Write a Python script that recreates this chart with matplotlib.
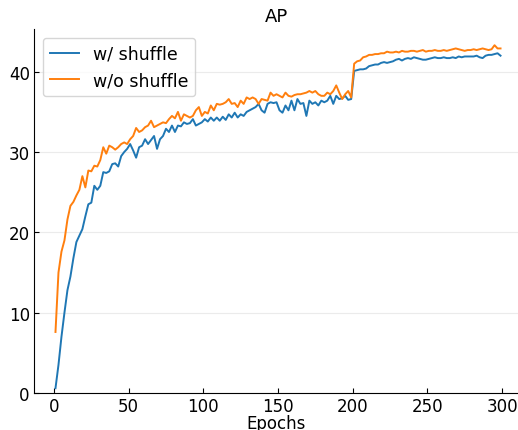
import numpy as np
import matplotlib
matplotlib.use("Agg")
import matplotlib.pyplot as plt

####DATA######
epochs = np.arange(1, 300, 2)

# AP with shuffle
ap_shuffle = [
    0.6, 3.5, 7.0, 10.0, 12.8, 14.5, 16.8, 18.8, 19.6, 20.4,
    22.0, 23.5, 23.7, 25.8, 25.3, 25.8, 27.5, 27.4, 27.6, 28.5,
    28.6, 28.2, 29.5, 30.0, 30.4, 31.0, 30.2, 29.3, 30.6, 30.8,
    31.6, 31.0, 31.5, 32.0, 30.4, 31.6, 32.0, 32.9, 32.5, 33.3,
    32.5, 33.3, 33.2, 33.7, 33.5, 33.6, 34.1, 33.3, 33.5, 33.7,
    34.1, 33.8, 34.3, 33.9, 34.3, 33.9, 34.4, 34.0, 34.7, 34.3,
    34.9, 34.3, 34.7, 34.5, 35.0, 35.2, 35.4, 35.6, 36.0, 35.2,
    34.9, 36.0, 36.2, 36.1, 36.2, 35.2, 34.9, 35.8, 35.2, 36.4,
    35.2, 36.6, 36.0, 36.1, 34.5, 36.4, 36.0, 36.2, 35.8, 36.4,
    36.2, 36.4, 37.0, 36.0, 37.0, 36.6, 36.7, 37.0, 36.5, 36.6,
    40.1, 40.2, 40.3, 40.3, 40.4, 40.7, 40.8, 40.9, 40.9, 41.1,
    41.2, 41.1, 41.2, 41.3, 41.5, 41.6, 41.4, 41.6, 41.7, 41.6,
    41.8, 41.7, 41.6, 41.5, 41.5, 41.6, 41.7, 41.8, 41.7, 41.7,
    41.8, 41.7, 41.7, 41.8, 41.7, 41.9, 41.8, 41.9, 41.9, 41.9,
    41.9, 42.0, 41.8, 41.7, 42.0, 42.1, 42.1, 42.2, 42.3, 42.0,
]

# AP without shuffle
ap_no_shuffle = [
    7.6, 15.0, 17.6, 19.0, 21.6, 23.3, 23.8, 24.6, 25.3, 27.0,
    25.6, 27.7, 27.6, 28.3, 28.2, 29.0, 30.6, 29.8, 30.8, 30.6,
    30.3, 30.6, 31.0, 31.2, 31.0, 31.6, 32.0, 33.0, 32.5, 32.7,
    33.1, 33.3, 33.9, 33.1, 33.3, 33.5, 33.7, 33.6, 34.1, 34.5,
    34.2, 35.0, 33.9, 34.7, 34.5, 34.3, 34.5, 35.2, 35.6, 34.5,
    35.0, 34.8, 35.8, 35.2, 36.0, 35.9, 36.0, 36.2, 36.6, 36.0,
    36.1, 35.6, 36.4, 36.0, 36.8, 36.6, 36.8, 36.6, 36.0, 36.6,
    36.5, 36.4, 37.4, 37.0, 37.2, 37.0, 36.8, 37.4, 37.0, 36.9,
    37.1, 37.2, 37.2, 37.3, 37.4, 37.6, 37.4, 37.6, 37.2, 37.0,
    37.0, 37.4, 37.2, 37.6, 38.3, 37.4, 36.6, 37.2, 37.6, 36.8,
    41.0, 41.3, 41.4, 41.8, 41.9, 42.1, 42.1, 42.2, 42.2, 42.3,
    42.3, 42.5, 42.4, 42.4, 42.5, 42.4, 42.6, 42.5, 42.5, 42.6,
    42.6, 42.5, 42.6, 42.7, 42.5, 42.6, 42.6, 42.7, 42.6, 42.6,
    42.7, 42.6, 42.7, 42.8, 42.9, 42.8, 42.7, 42.6, 42.7, 42.7,
    42.8, 42.7, 42.8, 42.9, 42.8, 42.7, 42.8, 43.3, 42.9, 42.9,
]

#Plot---------
fig = plt.figure(figsize=(5.18, 4.31), dpi=100)
ax = fig.add_axes([0.0656, 0.0858, 0.9344, 0.8442])

ax.plot(epochs, ap_shuffle, color='tab:blue', lw=1.4, label='w/ shuffle')
ax.plot(epochs, ap_no_shuffle, color='tab:orange', lw=1.4, label='w/o shuffle')

ax.set_xlim(-13.4, 310.7)
ax.set_ylim(0, 45.3)
ax.set_xticks([0, 50, 100, 150, 200, 250, 300])
ax.set_yticks([0, 10, 20, 30, 40])
ax.tick_params(direction='in', labelsize=12, pad=3)
ax.grid(axis='y', color='#ebebeb', lw=0.8)
ax.spines['top'].set_visible(False)
ax.spines['right'].set_visible(False)
ax.set_xlabel('Epochs', fontsize=12, labelpad=-1)
ax.set_title('AP', fontsize=13)
ax.legend(loc='upper left', fontsize=12.5, handlelength=1.7, borderaxespad=0.5)

fig.savefig('out.png', dpi=100)
